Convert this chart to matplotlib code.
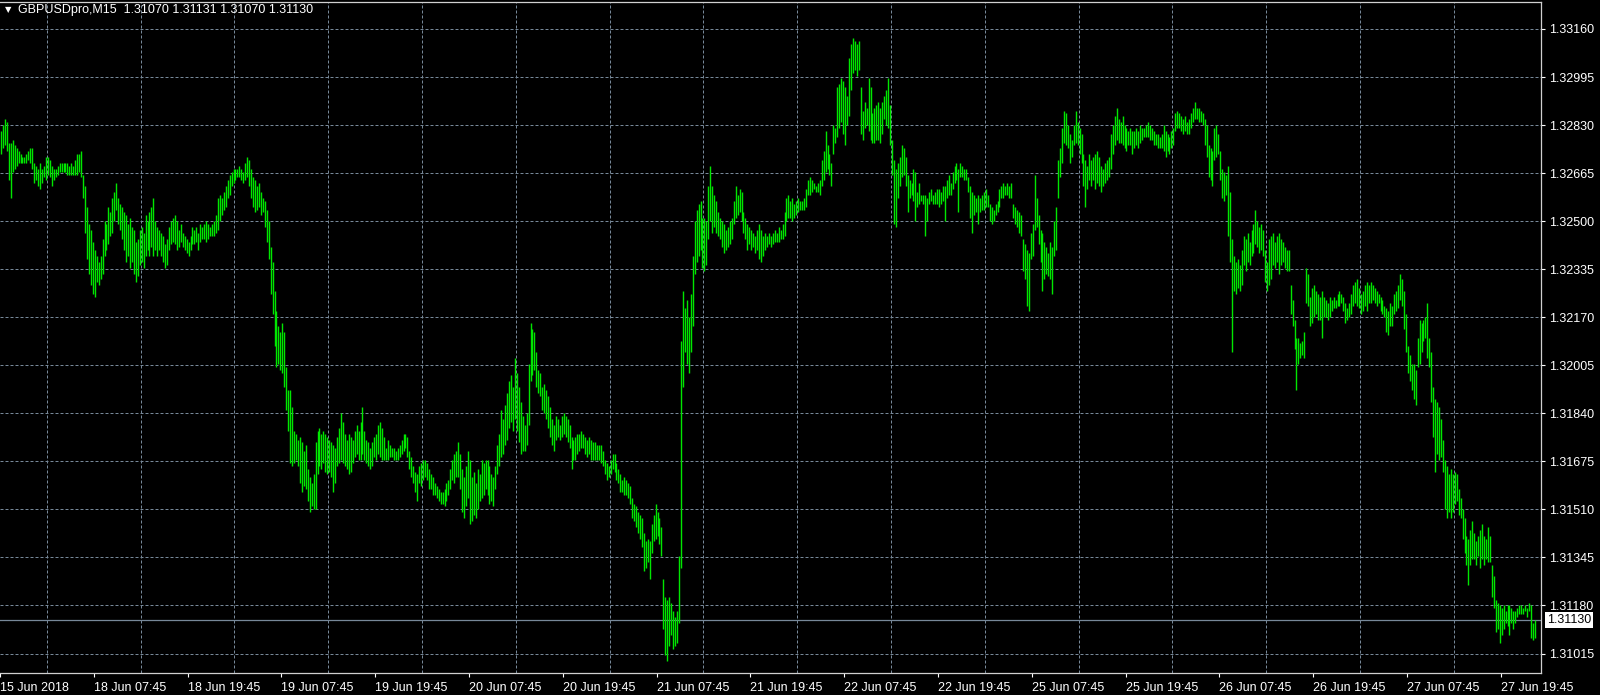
import matplotlib
matplotlib.use('Agg')
import matplotlib.pyplot as plt
from matplotlib.ticker import FixedLocator, NullFormatter

plt.rcParams['font.family'] = ['Liberation Sans', 'DejaVu Sans']

symbol = 'GBPUSDpro,M15'
last_ohlc = ['1.31070', '1.31131', '1.31070', '1.31130']
last_price = 1.31130

price_ticks = [1.31015, 1.31180, 1.31345, 1.31510, 1.31675, 1.31840, 1.32005,
               1.32170, 1.32335, 1.32500, 1.32665, 1.32830, 1.32995, 1.33160]

time_labels = ['15 Jun 2018', '18 Jun 07:45', '18 Jun 19:45', '19 Jun 07:45',
               '19 Jun 19:45', '20 Jun 07:45', '20 Jun 19:45', '21 Jun 07:45',
               '21 Jun 19:45', '22 Jun 07:45', '22 Jun 19:45', '25 Jun 07:45',
               '25 Jun 19:45', '26 Jun 07:45', '26 Jun 19:45', '27 Jun 07:45',
               '27 Jun 19:45']

# M15 bar highs and lows, in pips above 1.3000 (one row = 24 bars = one grid cell)
high_pips = [
    281, 283, 285, 284, 277, 277, 278, 276, 275, 274, 273, 272, 272, 273, 274, 275, 275, 270, 269, 268, 270, 268, 269, 272,
    272, 271, 269, 268, 268, 269, 270, 270, 270, 270, 270, 269, 270, 269, 271, 273, 273, 274, 266, 262, 255, 249, 247, 243,
    240, 238, 236, 238, 244, 250, 249, 255, 253, 258, 260, 263, 258, 256, 255, 253, 252, 249, 251, 248, 247, 243, 244, 247,
    248, 246, 252, 250, 253, 255, 258, 250, 248, 247, 246, 245, 242, 244, 248, 250, 251, 252, 250, 247, 249, 246, 245, 244,
    243, 245, 248, 247, 248, 246, 249, 248, 249, 250, 249, 248, 249, 250, 252, 258, 259, 258, 260, 262, 264, 266, 267, 268,
    268, 268, 269, 268, 267, 270, 272, 271, 268, 265, 264, 262, 263, 260, 258, 257, 254, 250, 241, 236, 226, 219, 214, 212,
    215, 212, 200, 192, 192, 186, 178, 177, 175, 176, 174, 171, 173, 165, 162, 160, 163, 174, 178, 179, 177, 178, 177, 176,
    175, 174, 173, 172, 176, 179, 184, 181, 177, 175, 177, 176, 175, 178, 180, 178, 181, 186, 178, 175, 174, 172, 174, 176,
    177, 180, 181, 179, 176, 172, 175, 173, 172, 172, 171, 172, 173, 175, 177, 177, 176, 171, 169, 166, 164, 163, 166, 167,
    168, 168, 167, 165, 163, 162, 160, 159, 158, 157, 157, 158, 160, 161, 165, 168, 170, 171, 174, 170, 165, 162, 166, 171,
    168, 162, 164, 160, 165, 163, 168, 167, 168, 168, 166, 163, 162, 166, 173, 177, 185, 182, 187, 191, 195, 197, 193, 203,
    198, 193, 188, 183, 180, 184, 201, 215, 213, 212, 205, 199, 198, 193, 194, 192, 190, 186, 182, 180, 183, 182, 180, 183,
    184, 183, 182, 180, 176, 175, 176, 177, 177, 178, 177, 176, 175, 176, 175, 174, 174, 173, 173, 173, 171, 168, 167, 166,
    168, 170, 170, 167, 165, 163, 161, 162, 161, 160, 159, 155, 153, 152, 150, 149, 148, 143, 140, 141, 140, 146, 149, 153,
    150, 148, 145, 127, 121, 120, 121, 119, 116, 114, 116, 135, 209, 226, 220, 223, 217, 225, 238, 250, 254, 256, 257, 251,
    251, 250, 262, 269, 262, 259, 257, 253, 251, 250, 249, 247, 248, 250, 251, 257, 262, 259, 261, 260, 253, 251, 249, 248,
    247, 246, 245, 247, 249, 247, 245, 246, 245, 246, 245, 246, 247, 246, 248, 247, 249, 253, 258, 259, 257, 258, 256, 257,
    258, 257, 257, 258, 261, 264, 265, 264, 263, 262, 263, 264, 271, 274, 281, 276, 273, 270, 283, 282, 296, 297, 299, 298,
    296, 293, 306, 311, 313, 312, 311, 312, 296, 288, 291, 289, 299, 296, 287, 289, 290, 291, 289, 291, 293, 295, 299, 290,
    278, 271, 268, 270, 272, 276, 275, 272, 266, 264, 263, 268, 267, 260, 263, 259, 259, 259, 258, 260, 261, 259, 260, 261,
    261, 260, 262, 262, 264, 266, 263, 267, 269, 270, 268, 270, 269, 268, 268, 265, 262, 260, 259, 258, 259, 258, 259, 260,
    261, 259, 256, 255, 254, 256, 257, 261, 262, 263, 262, 263, 262, 263, 256, 255, 254, 253, 252, 244, 242, 240, 239, 246,
    249, 266, 258, 252, 247, 246, 243, 241, 239, 243, 241, 250, 255, 271, 275, 282, 288, 287, 283, 280, 278, 283, 288, 284,
    282, 280, 273, 271, 269, 273, 271, 272, 273, 274, 272, 269, 268, 270, 271, 272, 280, 283, 286, 289, 285, 284, 286, 283,
    282, 281, 282, 281, 281, 282, 281, 283, 282, 282, 283, 284, 283, 282, 281, 280, 280, 279, 280, 283, 281, 280, 279, 281,
    282, 287, 288, 287, 286, 285, 286, 284, 285, 287, 289, 291, 289, 289, 288, 287, 285, 283, 276, 275, 274, 282, 283, 280,
    274, 268, 267, 266, 269, 260, 244, 238, 236, 237, 235, 240, 245, 244, 246, 243, 247, 249, 254, 250, 248, 249, 247, 240,
    236, 244, 245, 246, 243, 245, 246, 244, 243, 241, 240, 240, 228, 223, 216, 210, 210, 208, 209, 212, 234, 232, 224, 227,
    228, 226, 225, 224, 226, 224, 223, 222, 224, 223, 224, 223, 225, 226, 225, 224, 222, 220, 222, 225, 228, 229, 230, 227,
    225, 226, 228, 229, 228, 229, 228, 227, 226, 225, 224, 223, 221, 220, 219, 222, 221, 225, 226, 228, 232, 230, 226, 218,
    207, 204, 201, 201, 199, 210, 216, 215, 216, 217, 222, 210, 205, 193, 189, 188, 186, 182, 175, 168, 166, 163, 165, 163,
    164, 163, 158, 155, 151, 148, 142, 141, 144, 147, 143, 140, 142, 144, 146, 142, 141, 145, 142, 132, 128, 120, 119, 118,
    117, 118, 116, 118, 118, 117, 116, 116, 117, 118, 118, 117, 118, 117, 119, 118, 112, 113,
]
low_pips = [
    273, 275, 276, 274, 264, 258, 267, 268, 269, 270, 270, 270, 270, 270, 271, 270, 268, 263, 264, 262, 261, 263, 265, 264,
    266, 265, 262, 264, 265, 266, 267, 267, 267, 267, 266, 266, 266, 266, 266, 266, 267, 265, 258, 246, 237, 232, 228, 225,
    224, 229, 228, 230, 232, 238, 240, 242, 245, 246, 250, 254, 249, 247, 244, 240, 236, 238, 234, 236, 232, 229, 231, 235,
    236, 234, 238, 240, 238, 241, 238, 240, 238, 240, 238, 236, 234, 235, 240, 242, 243, 242, 240, 241, 243, 241, 240, 239,
    238, 240, 242, 242, 243, 240, 243, 244, 244, 243, 244, 245, 245, 245, 246, 247, 250, 252, 254, 255, 258, 259, 262, 263,
    264, 265, 265, 264, 263, 264, 265, 262, 258, 255, 253, 254, 255, 252, 253, 248, 243, 237, 225, 218, 207, 200, 201, 199,
    198, 193, 185, 178, 167, 166, 167, 168, 166, 160, 157, 159, 158, 154, 150, 152, 151, 151, 163, 166, 165, 167, 164, 163,
    164, 162, 157, 160, 166, 167, 168, 167, 166, 165, 163, 164, 167, 169, 170, 168, 168, 170, 168, 167, 166, 165, 166, 169,
    168, 170, 169, 168, 168, 168, 168, 169, 169, 168, 168, 168, 169, 170, 171, 172, 169, 165, 162, 160, 157, 154, 160, 159,
    161, 162, 161, 158, 158, 156, 156, 155, 154, 153, 153, 152, 154, 156, 158, 161, 160, 162, 162, 158, 150, 148, 152, 155,
    146, 147, 149, 148, 151, 154, 155, 156, 158, 156, 153, 154, 152, 158, 163, 166, 169, 170, 173, 175, 179, 181, 178, 182,
    178, 174, 170, 171, 171, 173, 180, 195, 197, 199, 193, 191, 190, 185, 184, 182, 179, 176, 173, 171, 175, 176, 175, 176,
    177, 176, 174, 172, 165, 168, 168, 170, 171, 172, 172, 170, 169, 170, 168, 168, 168, 168, 168, 167, 166, 163, 161, 162,
    163, 165, 164, 161, 160, 157, 157, 156, 156, 155, 153, 148, 147, 145, 143, 141, 138, 130, 131, 133, 127, 136, 140, 141,
    142, 139, 135, 110, 101, 99, 104, 108, 103, 104, 105, 112, 131, 193, 205, 201, 198, 205, 214, 232, 236, 238, 240, 234,
    233, 235, 244, 250, 246, 248, 246, 245, 244, 241, 239, 240, 241, 242, 244, 249, 251, 252, 253, 250, 246, 244, 240, 242,
    240, 241, 239, 240, 237, 236, 238, 240, 241, 242, 241, 242, 243, 243, 243, 244, 244, 245, 250, 251, 251, 250, 251, 252,
    253, 254, 254, 254, 255, 259, 259, 260, 261, 260, 260, 259, 262, 264, 267, 268, 266, 262, 273, 277, 279, 282, 284, 280,
    276, 283, 286, 295, 301, 302, 300, 302, 280, 278, 282, 283, 281, 278, 277, 277, 278, 278, 277, 280, 285, 283, 282, 276,
    266, 249, 248, 258, 262, 265, 266, 262, 253, 258, 259, 257, 250, 255, 256, 257, 256, 245, 250, 256, 257, 256, 256, 256,
    255, 256, 257, 250, 258, 259, 259, 261, 263, 264, 253, 265, 265, 264, 264, 260, 251, 246, 252, 253, 249, 253, 254, 254,
    255, 255, 250, 249, 250, 252, 253, 255, 258, 258, 259, 259, 258, 258, 251, 249, 248, 246, 245, 233, 230, 221, 219, 237,
    238, 247, 248, 242, 236, 226, 230, 232, 231, 230, 225, 238, 240, 258, 265, 270, 277, 276, 275, 270, 272, 276, 277, 276,
    273, 270, 262, 255, 261, 264, 262, 264, 261, 263, 262, 260, 262, 263, 264, 265, 268, 273, 276, 278, 277, 277, 276, 275,
    274, 276, 276, 273, 275, 276, 275, 277, 278, 279, 279, 279, 278, 278, 276, 276, 275, 275, 275, 274, 272, 274, 273, 275,
    276, 281, 282, 282, 281, 280, 281, 280, 280, 282, 284, 285, 285, 284, 284, 283, 276, 272, 265, 264, 262, 271, 272, 273,
    264, 258, 257, 259, 245, 236, 205, 226, 225, 227, 226, 228, 235, 233, 236, 235, 238, 239, 242, 241, 239, 240, 238, 229,
    226, 228, 230, 235, 234, 236, 232, 235, 236, 234, 233, 233, 218, 214, 206, 192, 201, 203, 204, 203, 222, 221, 214, 215,
    217, 218, 216, 216, 210, 217, 217, 216, 217, 219, 220, 220, 221, 221, 222, 219, 215, 216, 217, 218, 221, 222, 221, 220,
    218, 219, 221, 219, 222, 222, 223, 222, 221, 222, 219, 218, 217, 212, 211, 214, 214, 218, 219, 220, 223, 221, 213, 205,
    198, 195, 192, 189, 187, 200, 201, 205, 209, 210, 203, 200, 188, 176, 164, 170, 168, 169, 164, 151, 148, 150, 148, 150,
    153, 154, 149, 148, 141, 136, 132, 125, 132, 134, 134, 132, 135, 131, 134, 132, 134, 133, 133, 121, 117, 109, 110, 105,
    108, 110, 112, 111, 108, 112, 110, 112, 114, 115, 115, 115, 116, 114, 116, 107, 106, 107,
]

assert len(high_pips) == len(low_pips), (len(high_pips), len(low_pips))

highs = [1.3 + p / 10000 for p in high_pips]
lows = [1.3 + p / 10000 for p in low_pips]
bars = range(len(highs))

bg = 'black'
fg = 'white'
grid_col = '#778899'
bar_col = '#00e600'

W, H = 1600, 695
fig = plt.figure(figsize=(W / 100, H / 100), dpi=100, facecolor=bg)
# plot area in pixels: x 0..1541, y 1.5..672.5
ax = fig.add_axes([0, (H - 672.5) / H, 1541 / W, 671 / H])
ax.set_facecolor(bg)

bars_per_cell = 24
ax.set_xlim(-0.5, -0.5 + 1541 / 1.954)
ax.set_ylim(1.309498, 1.332544)

# bars
ax.vlines(bars, lows, highs, colors=bar_col, linewidth=1.0, zorder=3)

# last price line and its label
ax.axhline(last_price, color=grid_col, linewidth=0.9, zorder=2)
ax.annotate(f'{last_price:.5f}', xy=(1, last_price), xycoords=('axes fraction', 'data'),
            xytext=(6, 0), textcoords='offset pixels', va='center', ha='left',
            fontsize=9, color='black', annotation_clip=False,
            bbox=dict(boxstyle='square,pad=0.15', fc='white', ec='none'))

# axes: grid and ticks
major_x = [i * 2 * bars_per_cell - 0.5 for i in range(len(time_labels))]
minor_x = [i * bars_per_cell - 0.5 for i in range(2 * len(time_labels) + 1)]
ax.xaxis.set_major_locator(FixedLocator(major_x))
ax.xaxis.set_minor_locator(FixedLocator(minor_x))
ax.xaxis.set_minor_formatter(NullFormatter())
ax.set_xticklabels(time_labels, ha='left')
ax.set_yticks(price_ticks)
ax.set_yticklabels([f'{p:.5f}' for p in price_ticks])
ax.yaxis.tick_right()

ax.tick_params(axis='x', which='major', colors=fg, labelsize=9, length=3, width=0.8, pad=4)
ax.tick_params(axis='x', which='minor', length=0)
ax.tick_params(axis='y', colors=fg, labelsize=9, length=3, width=0.8, pad=3)

dash = (0, (3, 2))
ax.grid(True, axis='y', color=grid_col, linestyle=dash, linewidth=0.72, zorder=1)
ax.grid(True, axis='x', which='minor', color=grid_col, linestyle=dash, linewidth=0.72, zorder=1)
ax.set_axisbelow(True)

for side in ['top', 'right', 'bottom']:
    ax.spines[side].set_color('#d0d0d0')
    ax.spines[side].set_linewidth(0.9)
ax.spines['left'].set_visible(False)

# chart caption
fig.text(5 / W, 1 - 9.5 / H, '\u25bc', color=fg, fontsize=6, va='center', ha='left',
         family=['DejaVu Sans'])
fig.text(18 / W, 1 - 9.5 / H, symbol + '  ' + ' '.join(last_ohlc), color=fg,
         fontsize=9, va='center', ha='left')

fig.savefig('out.png', dpi=100, facecolor=bg)
